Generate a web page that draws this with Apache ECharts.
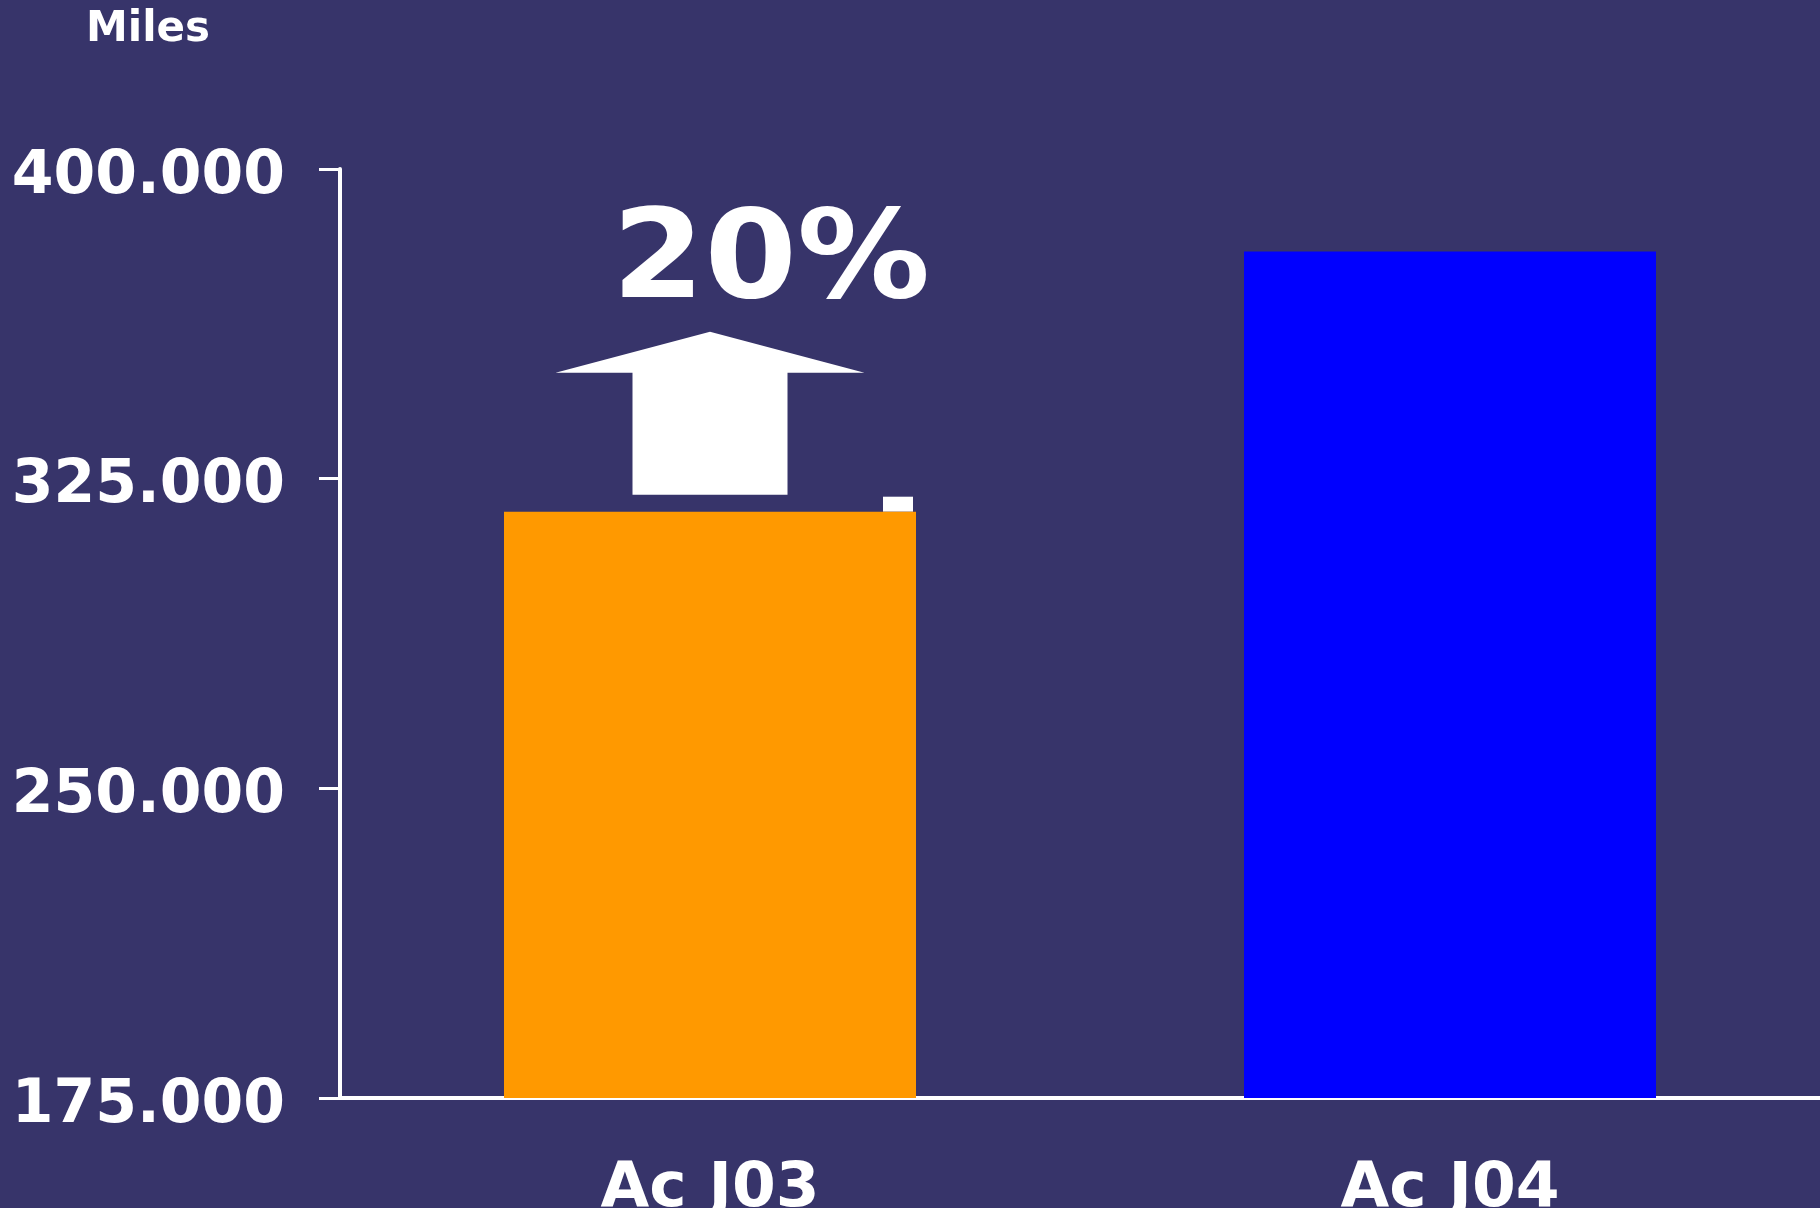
<!DOCTYPE html>
<html><head><meta charset="utf-8">
<script src="https://cdn.jsdelivr.net/npm/echarts@6/dist/echarts.min.js"></script>
<style>html,body{margin:0;padding:0;background:#37346a;overflow:hidden}#c{width:1820px;height:1208px}</style>
</head><body><div id="c"></div>
<script>
const categories = ['Ac J03', 'Ac J04'];
const miles = [317000, 380000];
const barColors = ['#ff9900', '#0000ff'];
const yTicks = [175000, 250000, 325000, 400000];
const unitLabel = 'Miles';
const changeLabel = '20%';

const FONT = '"DejaVu Sans", Verdana, sans-serif';
const fmt = v => String(v).replace(/\B(?=(\d{3})+(?!\d))/g, '.');

const chart = echarts.init(document.getElementById('c'), null, {renderer: 'canvas'});
chart.setOption({
  backgroundColor: '#37346a',
  animation: false,
  grid: {left: 340, right: 0, top: 169, bottom: 110, containLabel: false, outerBoundsMode: 'none'},
  xAxis: {
    type: 'category',
    data: categories,
    axisLine: {lineStyle: {color: '#ffffff', width: 4}},
    axisTick: {show: false},
    axisLabel: {color: '#ffffff', fontFamily: FONT, fontWeight: 'bold', fontSize: 63, margin: 60, interval: 0}
  },
  yAxis: {
    type: 'value',
    min: yTicks[0],
    max: yTicks[yTicks.length - 1],
    splitLine: {show: false},
    axisLine: {show: true, lineStyle: {color: '#ffffff', width: 4}},
    axisTick: {show: true, length: 21, lineStyle: {color: '#ffffff', width: 3}, customValues: yTicks},
    axisLabel: {color: '#ffffff', fontFamily: FONT, fontWeight: 'bold', fontSize: 60, margin: 55,
      customValues: yTicks, formatter: v => '{v|' + fmt(v) + '}',
      rich: {v: {fontFamily: FONT, fontWeight: 'bold', fontSize: 60, color: '#ffffff', padding: [16, 0, 0, 0]}}}
  },
  series: [{
    type: 'bar',
    barWidth: 412,
    data: miles.map((v, i) => ({value: v, itemStyle: {color: barColors[i]}}))
  }]
});

const [cx, topY] = chart.convertToPixel({seriesIndex: 0}, [0, miles[0]]);
chart.setOption({
  graphic: [
    {type: 'text', x: 148, y: 30, style: {x: 0, y: 0, text: unitLabel, fill: '#ffffff',
      font: 'bold 42px ' + FONT, align: 'center', verticalAlign: 'middle'}},
    {type: 'text', x: cx + 61, y: topY - 247, scaleX: 1.08, style: {x: 0, y: 0, text: changeLabel, fill: '#ffffff',
      font: 'bold 123px ' + FONT, align: 'center', verticalAlign: 'middle'}},
    {type: 'polygon', shape: {points: [
      [cx - 77.5, topY - 17], [cx + 77.5, topY - 17], [cx + 77.5, topY - 139], [cx + 154.5, topY - 139],
      [cx, topY - 180], [cx - 154.5, topY - 139], [cx - 77.5, topY - 139]
    ]}, style: {fill: '#ffffff'}},
    {type: 'rect', shape: {x: cx + 173, y: topY - 15, width: 30, height: 15}, style: {fill: '#ffffff'}}
  ]
});
</script>
</body></html>
